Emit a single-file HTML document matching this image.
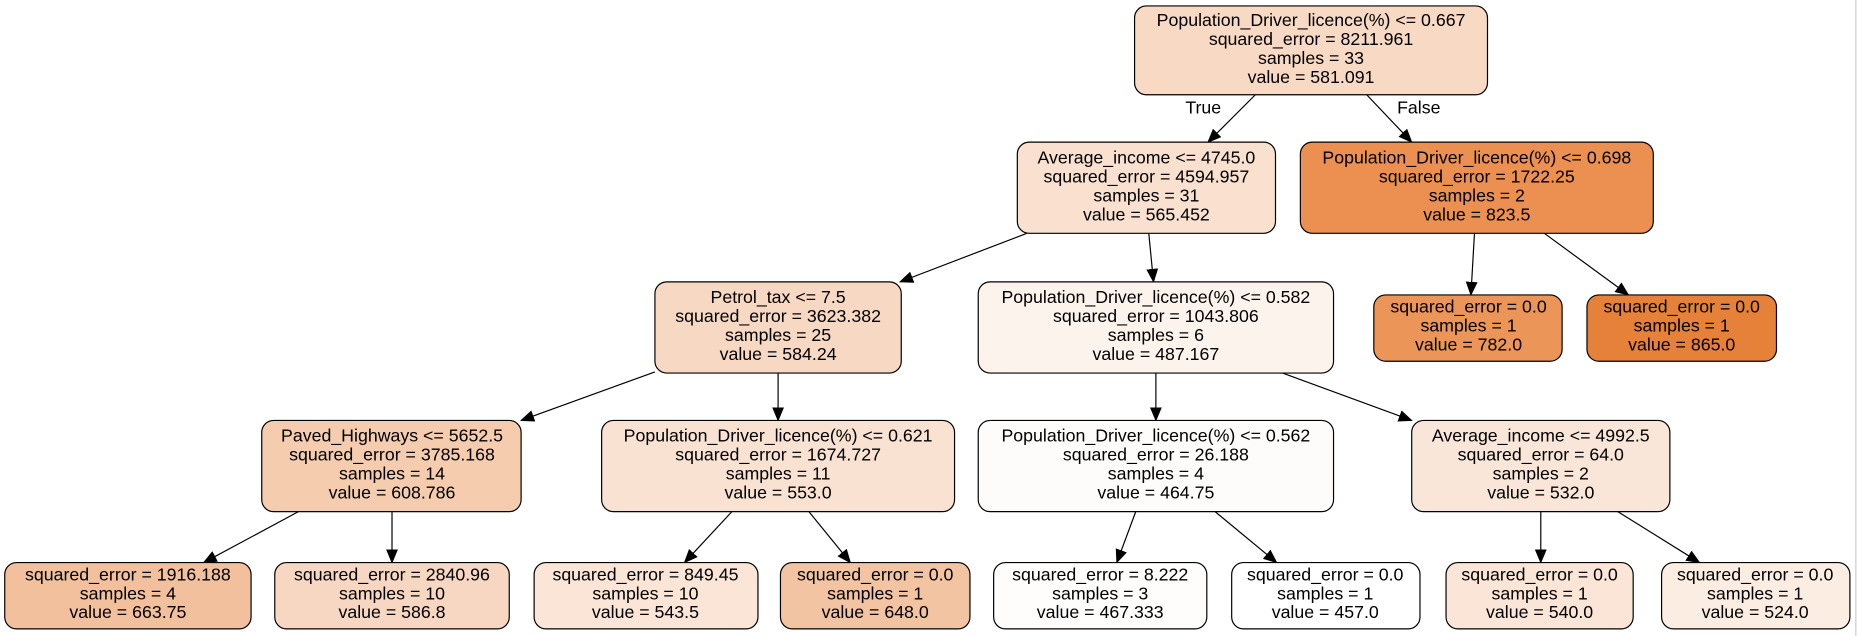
<!DOCTYPE html>
<html><head><meta charset="utf-8"><style>
html,body{margin:0;padding:0;background:#fff;width:1857px;height:636px;overflow:hidden}
svg{display:block}
text{font-family:"Liberation Sans",Arial,sans-serif;font-size:15px;fill:#000}
rect{stroke:#000;stroke-width:1}
line{stroke:#000;stroke-width:1}
</style></head><body>
<svg width="1857" height="636" viewBox="0 0 1568 537" xmlns="http://www.w3.org/2000/svg">
<defs><marker id="a" markerWidth="12" markerHeight="10" refX="11" refY="5" orient="auto" markerUnits="userSpaceOnUse"><path d="M0,0 L12,5 L0,10 Z" fill="#000"/></marker></defs>
<g marker-end="url(#a)">
<line x1="1060" y1="80" x2="1020" y2="120" marker-end="url(#a)"/>
<line x1="1154" y1="80" x2="1192" y2="120" marker-end="url(#a)"/>
<line x1="867" y1="197" x2="760" y2="238" marker-end="url(#a)"/>
<line x1="970" y1="197" x2="974" y2="238" marker-end="url(#a)"/>
<line x1="1245" y1="197" x2="1242" y2="249" marker-end="url(#a)"/>
<line x1="1304" y1="197" x2="1375" y2="249" marker-end="url(#a)"/>
<line x1="553" y1="314" x2="440" y2="355" marker-end="url(#a)"/>
<line x1="657" y1="315" x2="657" y2="355" marker-end="url(#a)"/>
<line x1="976" y1="315" x2="976" y2="355" marker-end="url(#a)"/>
<line x1="1083" y1="315" x2="1192" y2="355" marker-end="url(#a)"/>
<line x1="252" y1="432" x2="172" y2="475" marker-end="url(#a)"/>
<line x1="331" y1="432" x2="331" y2="475" marker-end="url(#a)"/>
<line x1="618" y1="432" x2="578" y2="475" marker-end="url(#a)"/>
<line x1="683" y1="432" x2="718" y2="475" marker-end="url(#a)"/>
<line x1="959" y1="432" x2="943" y2="475" marker-end="url(#a)"/>
<line x1="1026" y1="432" x2="1078" y2="475" marker-end="url(#a)"/>
<line x1="1301" y1="432" x2="1301" y2="475" marker-end="url(#a)"/>
<line x1="1366" y1="432" x2="1435" y2="475" marker-end="url(#a)"/>
</g>
<text x="1016" y="96" text-anchor="middle">True</text>
<text x="1198" y="96" text-anchor="middle">False</text>

<g text-anchor="middle">
<rect x="958" y="5" width="298" height="75" rx="10" fill="#f8d9c4"/>
<text x="1107" y="22">Population_Driver_licence(%) &lt;= 0.667</text><text x="1107" y="38">squared_error = 8211.961</text><text x="1107" y="54">samples = 33</text><text x="1107" y="70">value = 581.091</text>

<rect x="859" y="120" width="218" height="77" rx="10" fill="#f9e0cf"/>
<text x="968" y="138">Average_income &lt;= 4745.0</text><text x="968" y="154">squared_error = 4594.957</text><text x="968" y="170">samples = 31</text><text x="968" y="186">value = 565.452</text>

<rect x="1098" y="120" width="298" height="77" rx="10" fill="#eb9050"/>
<text x="1247" y="138">Population_Driver_licence(%) &lt;= 0.698</text><text x="1247" y="154">squared_error = 1722.25</text><text x="1247" y="170">samples = 2</text><text x="1247" y="186">value = 823.5</text>

<rect x="553" y="238" width="208" height="77" rx="10" fill="#f7d8c2"/>
<text x="657" y="256">Petrol_tax &lt;= 7.5</text><text x="657" y="272">squared_error = 3623.382</text><text x="657" y="288">samples = 25</text><text x="657" y="304">value = 584.24</text>

<rect x="826" y="238" width="300" height="77" rx="10" fill="#fdf3ed"/>
<text x="976" y="256">Population_Driver_licence(%) &lt;= 0.582</text><text x="976" y="272">squared_error = 1043.806</text><text x="976" y="288">samples = 6</text><text x="976" y="304">value = 487.167</text>

<rect x="1160" y="249" width="159" height="56" rx="10" fill="#eb9559"/>
<text x="1240" y="264">squared_error = 0.0</text><text x="1240" y="280">samples = 1</text><text x="1240" y="296">value = 782.0</text>

<rect x="1340" y="249" width="160" height="56" rx="10" fill="#e58139"/>
<text x="1420" y="264">squared_error = 0.0</text><text x="1420" y="280">samples = 1</text><text x="1420" y="296">value = 865.0</text>

<rect x="221" y="355" width="219" height="77" rx="10" fill="#f5ccae"/>
<text x="331" y="373">Paved_Highways &lt;= 5652.5</text><text x="331" y="389">squared_error = 3785.168</text><text x="331" y="405">samples = 14</text><text x="331" y="421">value = 608.786</text>

<rect x="508" y="355" width="298" height="77" rx="10" fill="#f9e2d2"/>
<text x="657" y="373">Population_Driver_licence(%) &lt;= 0.621</text><text x="657" y="389">squared_error = 1674.727</text><text x="657" y="405">samples = 11</text><text x="657" y="421">value = 553.0</text>

<rect x="826" y="355" width="300" height="77" rx="10" fill="#fefcfa"/>
<text x="976" y="373">Population_Driver_licence(%) &lt;= 0.562</text><text x="976" y="389">squared_error = 26.188</text><text x="976" y="405">samples = 4</text><text x="976" y="421">value = 464.75</text>

<rect x="1192" y="355" width="218" height="77" rx="10" fill="#fae6d8"/>
<text x="1301" y="373">Average_income &lt;= 4992.5</text><text x="1301" y="389">squared_error = 64.0</text><text x="1301" y="405">samples = 2</text><text x="1301" y="421">value = 532.0</text>

<rect x="4" y="475" width="208" height="56" rx="10" fill="#f2c09c"/>
<text x="108" y="490">squared_error = 1916.188</text><text x="108" y="506">samples = 4</text><text x="108" y="522">value = 663.75</text>

<rect x="232" y="475" width="198" height="56" rx="10" fill="#f7d7c1"/>
<text x="331" y="490">squared_error = 2840.96</text><text x="331" y="506">samples = 10</text><text x="331" y="522">value = 586.8</text>

<rect x="451" y="475" width="189" height="56" rx="10" fill="#fae5d7"/>
<text x="545" y="490">squared_error = 849.45</text><text x="545" y="506">samples = 10</text><text x="545" y="522">value = 543.5</text>

<rect x="659" y="475" width="160" height="56" rx="10" fill="#f3c4a2"/>
<text x="739" y="490">squared_error = 0.0</text><text x="739" y="506">samples = 1</text><text x="739" y="522">value = 648.0</text>

<rect x="839" y="475" width="180" height="56" rx="10" fill="#fefdfc"/>
<text x="929" y="490">squared_error = 8.222</text><text x="929" y="506">samples = 3</text><text x="929" y="522">value = 467.333</text>

<rect x="1040" y="475" width="159" height="56" rx="10" fill="#ffffff"/>
<text x="1119" y="490">squared_error = 0.0</text><text x="1119" y="506">samples = 1</text><text x="1119" y="522">value = 457.0</text>

<rect x="1221" y="475" width="158" height="56" rx="10" fill="#fae5d6"/>
<text x="1300" y="490">squared_error = 0.0</text><text x="1300" y="506">samples = 1</text><text x="1300" y="522">value = 540.0</text>

<rect x="1403" y="475" width="159" height="56" rx="10" fill="#fcede2"/>
<text x="1482" y="490">squared_error = 0.0</text><text x="1482" y="506">samples = 1</text><text x="1482" y="522">value = 524.0</text>
</g>
<line x1="1567" y1="0" x2="1567" y2="537" style="stroke:#ccc"/>
</svg>
</body></html>
